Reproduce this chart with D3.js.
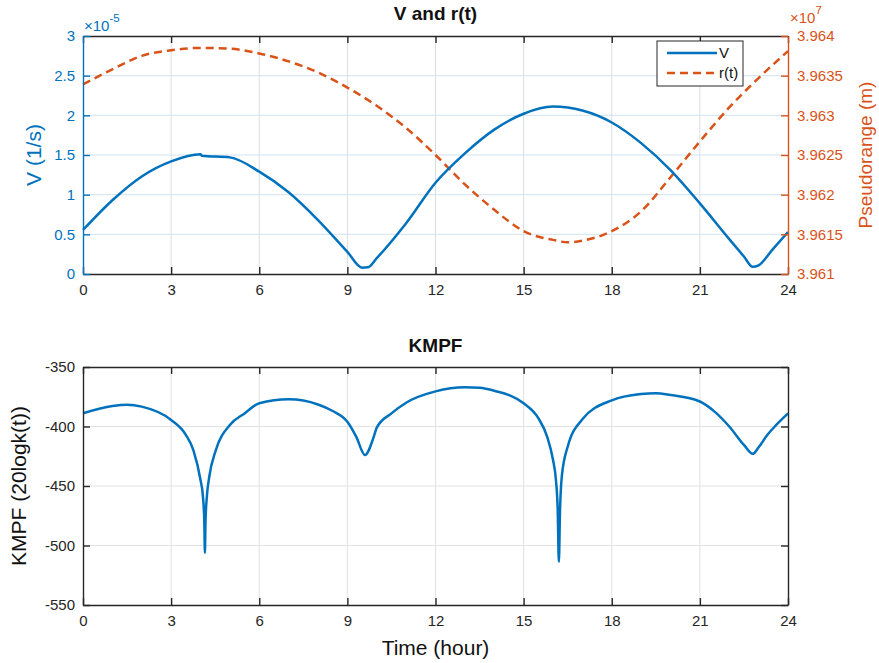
<!DOCTYPE html>
<html>
<head>
<meta charset="utf-8">
<script src="https://cdn.jsdelivr.net/npm/d3@7"></script>
<style>
  body { margin: 0; background: #fff; }
  svg { display: block; font-family: "Liberation Sans", Arial, sans-serif; }
</style>
</head>
<body>
<svg id="chart" width="879" height="663"></svg>
<script>
// ---------- data ----------
const xTicks = [0, 3, 6, 9, 12, 15, 18, 21, 24];

// V (1/s), values in units of 1e-5
const vHours  = [0, 1, 2, 3, 4, 4.05, 5, 6, 7, 8, 9, 9.5, 9.7, 10, 11, 12, 13, 14, 15, 16, 17, 18, 19, 20, 21, 22, 22.5, 22.8, 23, 23.5, 24];
const vValues = [0.555, 0.93, 1.23, 1.42, 1.51, 1.49, 1.47, 1.29, 1.03, 0.68, 0.28, 0.08, 0.085, 0.2, 0.64, 1.15, 1.52, 1.82, 2.02, 2.11, 2.06, 1.91, 1.65, 1.31, 0.89, 0.44, 0.22, 0.09, 0.11, 0.32, 0.53];
const vTicks = [0, 0.5, 1, 1.5, 2, 2.5, 3];

// r(t) pseudorange, values in units of 1e7 m
const rHours  = [0, 1, 2, 3, 4, 5, 6, 7, 8, 9, 10, 11, 12, 13, 14, 15, 16, 16.5, 17, 18, 19, 20, 21, 22, 23, 24];
const rValues = [3.96339, 3.96358, 3.96375, 3.96382, 3.96385, 3.96384, 3.96378, 3.96368, 3.96354, 3.96335, 3.96312, 3.96284, 3.9625, 3.96213, 3.96181, 3.96154, 3.96143, 3.9614, 3.96142, 3.96154, 3.96179, 3.96222, 3.96267, 3.9631, 3.96347, 3.96381];
const rTicks = [3.961, 3.9615, 3.962, 3.9625, 3.963, 3.9635, 3.964];
const rTickLabels = ["3.961", "3.9615", "3.962", "3.9625", "3.963", "3.9635", "3.964"];

// KMPF (20logk(t))
const kHours  = [0, 1, 1.5, 2, 3, 3.5, 3.76, 4.0, 4.08, 4.13, 4.15, 4.17, 4.22, 4.3, 4.52, 5, 5.5, 6, 7, 8, 8.5, 9, 9.3, 9.6, 9.9, 10, 10.5, 11, 12, 13, 13.5, 14, 15, 15.5, 15.8, 16.0, 16.1, 16.16, 16.2, 16.24, 16.3, 16.5, 17, 18, 19, 19.5, 20, 21, 21.5, 22, 22.5, 22.8, 23, 23.3, 23.6, 24];
const kValues = [-388.9, -382.8, -381.7, -383.3, -394.5, -407, -420, -445, -458, -480, -506, -480, -458, -442, -420, -398.7, -389, -380.5, -377.2, -381.5, -387, -396, -408.5, -424, -408.5, -401, -389, -380, -370.5, -367.1, -367.5, -370, -380.5, -393, -408.5, -428, -445, -470, -513.6, -470, -442, -417, -394, -378, -372.7, -372, -373.5, -379, -387.5, -400, -415.5, -423, -417.5, -407, -398.7, -389];
const kTicks = [-550, -500, -450, -400, -350];

// ---------- layout ----------
const blue = "#0072BD", orange = "#D95319", black = "#262626";
const L = 83, R = 788;
const top1 = 36, bot1 = 274, top2 = 367, bot2 = 605;
const tickLen = 7;
const svg = d3.select("#chart");

const x1 = d3.scaleLinear().domain([0, 24]).range([L, R]);
const yV = d3.scaleLinear().domain([0, 3]).range([bot1, top1]);
const yR = d3.scaleLinear().domain([3.961, 3.964]).range([bot1, top1]);
const x2 = d3.scaleLinear().domain([0, 24]).range([L, R]);
const yK = d3.scaleLinear().domain([-550, -350]).range([bot2, top2]);

// ---------- top plot ----------
const g1 = svg.append("g");
g1.selectAll(".vg").data(xTicks.slice(1, -1)).enter().append("line")
  .attr("x1", d => x1(d)).attr("x2", d => x1(d)).attr("y1", top1).attr("y2", bot1)
  .attr("stroke", "#d8dee5").attr("stroke-width", 1);
g1.selectAll(".hg").data(vTicks.slice(1, -1)).enter().append("line")
  .attr("x1", L).attr("x2", R).attr("y1", d => yV(d)).attr("y2", d => yV(d))
  .attr("stroke", "#d2e3f0").attr("stroke-width", 1);

g1.append("path").datum(rHours.map((h, i) => [h, rValues[i]]))
  .attr("fill", "none").attr("stroke", orange).attr("stroke-width", 2.5)
  .attr("stroke-dasharray", "8,5")
  .attr("d", d3.line().x(d => x1(d[0])).y(d => yR(d[1])).curve(d3.curveMonotoneX));
g1.append("path").datum(vHours.map((h, i) => [h, vValues[i]]))
  .attr("fill", "none").attr("stroke", blue).attr("stroke-width", 2.5)
  .attr("d", d3.line().x(d => x1(d[0])).y(d => yV(d[1])).curve(d3.curveMonotoneX));

function styleAxis(sel, color) {
  sel.selectAll("path.domain").attr("stroke", color).attr("stroke-width", 1.4);
  sel.selectAll(".tick line").attr("stroke", color).attr("stroke-width", 1.4);
  sel.selectAll(".tick text").attr("fill", color).style("font-size", "15px")
     .style("font-family", "'Liberation Sans', Arial, sans-serif");
}

const ax1b = g1.append("g").attr("transform", `translate(0,${bot1})`)
  .call(d3.axisBottom(x1).tickValues(xTicks).tickSize(-tickLen).tickSizeOuter(0).tickPadding(10).tickFormat(d3.format("d")));
styleAxis(ax1b, black);
const ax1t = g1.append("g").attr("transform", `translate(0,${top1})`)
  .call(d3.axisTop(x1).tickValues(xTicks).tickSize(-tickLen).tickSizeOuter(0).tickFormat(""));
styleAxis(ax1t, black);
const ax1l = g1.append("g").attr("transform", `translate(${L},0)`)
  .call(d3.axisLeft(yV).tickValues(vTicks).tickSize(-tickLen).tickSizeOuter(0).tickPadding(8).tickFormat(d => String(d)));
styleAxis(ax1l, blue);
const ax1r = g1.append("g").attr("transform", `translate(${R},0)`)
  .call(d3.axisRight(yR).tickValues(rTicks).tickSize(-tickLen).tickSizeOuter(0).tickPadding(9).tickFormat((d, i) => rTickLabels[i]));
styleAxis(ax1r, orange);

const e1 = g1.append("text").attr("x", L + 1).attr("y", 31).attr("fill", blue).style("font-size", "15px");
e1.append("tspan").text("\u00d710");
e1.append("tspan").attr("dy", -9).style("font-size", "11.5px").text("-5");
const e2 = g1.append("text").attr("x", R + 2).attr("y", 23).attr("fill", orange).style("font-size", "15px");
e2.append("tspan").text("\u00d710");
e2.append("tspan").attr("dy", -9).style("font-size", "11.5px").text("7");

g1.append("text").attr("x", (L + R) / 2).attr("y", 20).attr("text-anchor", "middle")
  .style("font-size", "19px").style("font-weight", "bold").attr("fill", "#111").text("V and r(t)");
g1.append("text").attr("transform", `translate(41,${(top1 + bot1) / 2}) rotate(-90)`)
  .attr("text-anchor", "middle").attr("fill", blue).style("font-size", "21px").text("V (1/s)");
g1.append("text").attr("transform", `translate(872,${(top1 + bot1) / 2}) rotate(-90)`)
  .attr("text-anchor", "middle").attr("fill", orange).style("font-size", "19px").text("Pseudorange (m)");

const lg = g1.append("g");
lg.append("rect").attr("x", 657).attr("y", 41).attr("width", 86).attr("height", 45)
  .attr("fill", "#fff").attr("stroke", "#262626").attr("stroke-width", 1);
lg.append("line").attr("x1", 667).attr("x2", 717).attr("y1", 53).attr("y2", 53)
  .attr("stroke", blue).attr("stroke-width", 2.5);
lg.append("line").attr("x1", 667).attr("x2", 717).attr("y1", 73).attr("y2", 73)
  .attr("stroke", orange).attr("stroke-width", 2.5).attr("stroke-dasharray", "8,5");
lg.append("text").attr("x", 719).attr("y", 58).style("font-size", "15px").attr("fill", "#111").text("V");
lg.append("text").attr("x", 719).attr("y", 78).style("font-size", "15px").attr("fill", "#111").text("r(t)");

// ---------- bottom plot ----------
const g2 = svg.append("g");
g2.selectAll(".vg").data(xTicks.slice(1, -1)).enter().append("line")
  .attr("x1", d => x2(d)).attr("x2", d => x2(d)).attr("y1", top2).attr("y2", bot2)
  .attr("stroke", "#e2e2e2").attr("stroke-width", 1);
g2.selectAll(".hg").data(kTicks.slice(1, -1)).enter().append("line")
  .attr("x1", L).attr("x2", R).attr("y1", d => yK(d)).attr("y2", d => yK(d))
  .attr("stroke", "#e2e2e2").attr("stroke-width", 1);

g2.append("path").datum(kHours.map((h, i) => [h, kValues[i]]))
  .attr("fill", "none").attr("stroke", blue).attr("stroke-width", 2.5)
  .attr("d", d3.line().x(d => x2(d[0])).y(d => yK(d[1])).curve(d3.curveMonotoneX));

const ax2b = g2.append("g").attr("transform", `translate(0,${bot2})`)
  .call(d3.axisBottom(x2).tickValues(xTicks).tickSize(-tickLen).tickSizeOuter(0).tickPadding(10).tickFormat(d3.format("d")));
styleAxis(ax2b, black);
const ax2t = g2.append("g").attr("transform", `translate(0,${top2})`)
  .call(d3.axisTop(x2).tickValues(xTicks).tickSize(-tickLen).tickSizeOuter(0).tickFormat(""));
styleAxis(ax2t, black);
const ax2l = g2.append("g").attr("transform", `translate(${L},0)`)
  .call(d3.axisLeft(yK).tickValues(kTicks).tickSize(-tickLen).tickSizeOuter(0).tickPadding(8).tickFormat(d => String(d)));
styleAxis(ax2l, black);
const ax2r = g2.append("g").attr("transform", `translate(${R},0)`)
  .call(d3.axisRight(yK).tickValues(kTicks).tickSize(-tickLen).tickSizeOuter(0).tickFormat(""));
styleAxis(ax2r, black);

g2.append("text").attr("x", (L + R) / 2).attr("y", 352).attr("text-anchor", "middle")
  .style("font-size", "19px").style("font-weight", "bold").attr("fill", "#111").text("KMPF");
g2.append("text").attr("transform", `translate(26,${(top2 + bot2) / 2}) rotate(-90)`)
  .attr("text-anchor", "middle").attr("fill", "#111").style("font-size", "21px").text("KMPF (20logk(t))");
g2.append("text").attr("x", (L + R) / 2).attr("y", 655).attr("text-anchor", "middle")
  .attr("fill", "#111").style("font-size", "21px").text("Time (hour)");
</script>
</body>
</html>
